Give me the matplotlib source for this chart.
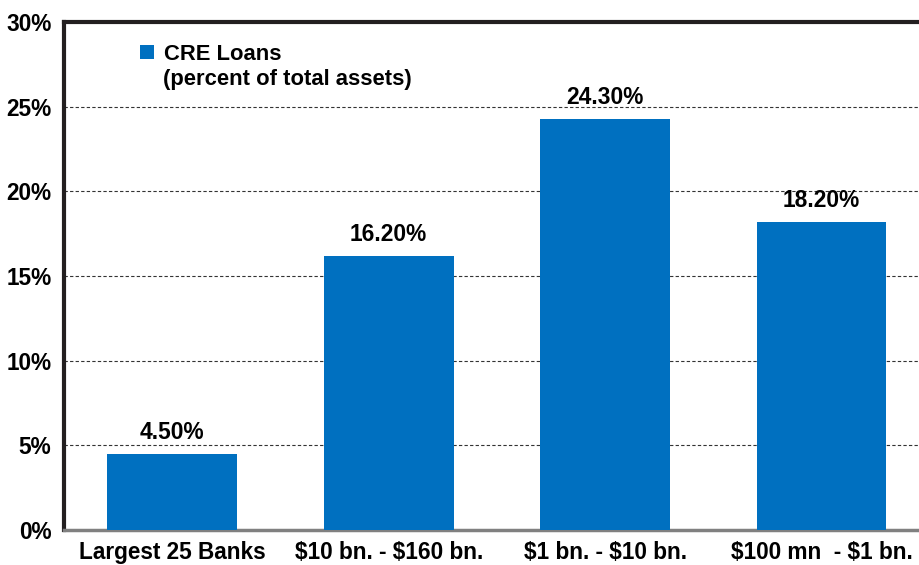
import matplotlib.pyplot as plt
from matplotlib.ticker import FuncFormatter

categories = ["Largest 25 Banks", "$10 bn. - $160 bn.", "$1 bn. - $10 bn.", "$100 mn  - $1 bn."]
cre_share = [4.5, 16.2, 24.3, 18.2]
value_labels = ["4.50%", "16.20%", "24.30%", "18.20%"]
yticks = [0, 5, 10, 15, 20, 25, 30]

plt.rcParams['font.family'] = ['Liberation Sans', 'DejaVu Sans']
plt.rcParams['font.weight'] = 'bold'
plt.rcParams['text.parse_math'] = False

fig = plt.figure(figsize=(9.2, 5.65), dpi=100)
ax = fig.add_axes([0.0696, 0.062, 0.941, 0.899])

x = range(len(categories))
ax.bar(x, cre_share, width=0.6, color="#0070C0", zorder=3, label="CRE Loans")
for xi, v, lab in zip(x, cre_share, value_labels):
    ax.annotate(lab, (xi, v), xytext=(0, 7), textcoords="offset points",
                ha="center", va="bottom", fontsize=16.4, fontweight="bold")

ax.set_xlim(-0.5, 3.5)
ax.set_ylim(0, 30)
ax.set_yticks(yticks)
ax.yaxis.set_major_formatter(FuncFormatter(lambda v, _: f"{v:.0f}%"))
ax.set_xticks(list(x))
ax.set_xticklabels(categories)
ax.tick_params(axis="both", length=0, labelsize=16.3)
ax.tick_params(axis="y", pad=9)
ax.tick_params(axis="x", pad=8)
for t in ax.get_xticklabels() + ax.get_yticklabels():
    t.set_fontweight("bold")

ax.grid(axis="y", linestyle=(0, (3, 2)), color="#333333", linewidth=0.8, zorder=0)
ax.spines["right"].set_visible(False)
ax.spines["top"].set_linewidth(3)
ax.spines["top"].set_color("#231f20")
ax.spines["left"].set_linewidth(3)
ax.spines["left"].set_color("#231f20")
ax.spines["bottom"].set_linewidth(2.5)
ax.spines["bottom"].set_color("#808080")

# legend: square + first line, second line as plain text under it
ax.legend(loc="upper left", bbox_to_anchor=(0.0878, 0.957), frameon=False, borderpad=0,
          borderaxespad=0, handlelength=0.62, handleheight=0.62, handletextpad=0.45,
          prop={"weight": "bold", "size": 15.8})
ax.text(0.1144, 0.886, "(percent of total assets)", transform=ax.transAxes,
        ha="left", va="center", fontsize=15.8, fontweight="bold")

fig.savefig("out.png", dpi=100)
